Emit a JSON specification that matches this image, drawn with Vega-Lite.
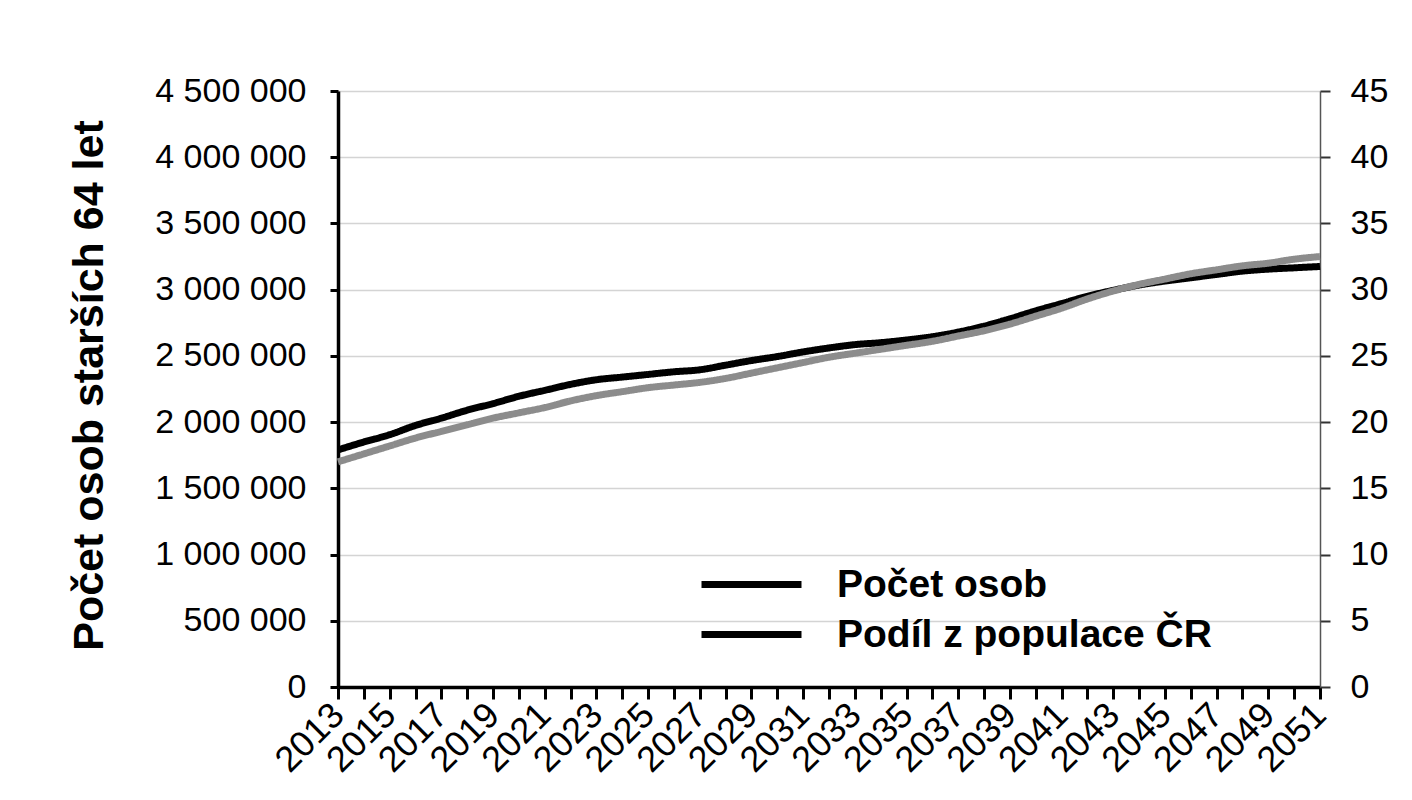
{
  "$schema": "https://vega.github.io/schema/vega-lite/v6.json",
  "autosize": {"type": "none"},
  "width": 982,
  "height": 596,
  "padding": {"left": 338, "top": 91, "right": 92, "bottom": 113},
  "background": "white",
  "config": {
    "view": {"stroke": null},
    "font": "Liberation Sans",
    "axis": {"labelFont": "Liberation Sans", "titleFont": "Liberation Sans", "labelColor": "black", "titleColor": "black"},
    "legend": {"symbolStrokeColor": "black"}
  },
  "data": {
    "values": [
      {"rok": 2013, "osob": 1790000, "podil": 17.0},
      {"rok": 2014, "osob": 1850000, "podil": 17.6},
      {"rok": 2015, "osob": 1905000, "podil": 18.2},
      {"rok": 2016, "osob": 1975000, "podil": 18.8},
      {"rok": 2017, "osob": 2030000, "podil": 19.3},
      {"rok": 2018, "osob": 2090000, "podil": 19.8},
      {"rok": 2019, "osob": 2140000, "podil": 20.3},
      {"rok": 2020, "osob": 2195000, "podil": 20.7},
      {"rok": 2021, "osob": 2240000, "podil": 21.1},
      {"rok": 2022, "osob": 2285000, "podil": 21.6},
      {"rok": 2023, "osob": 2320000, "podil": 22.0},
      {"rok": 2024, "osob": 2340000, "podil": 22.3},
      {"rok": 2025, "osob": 2360000, "podil": 22.6},
      {"rok": 2026, "osob": 2380000, "podil": 22.8},
      {"rok": 2027, "osob": 2395000, "podil": 23.0},
      {"rok": 2028, "osob": 2430000, "podil": 23.3},
      {"rok": 2029, "osob": 2465000, "podil": 23.7},
      {"rok": 2030, "osob": 2495000, "podil": 24.1},
      {"rok": 2031, "osob": 2530000, "podil": 24.5},
      {"rok": 2032, "osob": 2560000, "podil": 24.9},
      {"rok": 2033, "osob": 2585000, "podil": 25.2},
      {"rok": 2034, "osob": 2600000, "podil": 25.5},
      {"rok": 2035, "osob": 2620000, "podil": 25.8},
      {"rok": 2036, "osob": 2645000, "podil": 26.1},
      {"rok": 2037, "osob": 2680000, "podil": 26.5},
      {"rok": 2038, "osob": 2725000, "podil": 26.9},
      {"rok": 2039, "osob": 2780000, "podil": 27.4},
      {"rok": 2040, "osob": 2840000, "podil": 28.0},
      {"rok": 2041, "osob": 2895000, "podil": 28.6},
      {"rok": 2042, "osob": 2950000, "podil": 29.3},
      {"rok": 2043, "osob": 2995000, "podil": 29.9},
      {"rok": 2044, "osob": 3035000, "podil": 30.4},
      {"rok": 2045, "osob": 3065000, "podil": 30.8},
      {"rok": 2046, "osob": 3090000, "podil": 31.2},
      {"rok": 2047, "osob": 3115000, "podil": 31.5},
      {"rok": 2048, "osob": 3140000, "podil": 31.8},
      {"rok": 2049, "osob": 3155000, "podil": 32.0},
      {"rok": 2050, "osob": 3165000, "podil": 32.3},
      {"rok": 2051, "osob": 3175000, "podil": 32.5}
    ]
  },
  "encoding": {
    "x": {
      "field": "rok",
      "type": "quantitative",
      "scale": {"domain": [2013, 2051], "nice": false, "zero": false},
      "axis": {
        "title": null,
        "values": [2013, 2014, 2015, 2016, 2017, 2018, 2019, 2020, 2021, 2022, 2023, 2024, 2025, 2026, 2027, 2028, 2029, 2030, 2031, 2032, 2033, 2034, 2035, 2036, 2037, 2038, 2039, 2040, 2041, 2042, 2043, 2044, 2045, 2046, 2047, 2048, 2049, 2050, 2051],
        "labelExpr": "datum.value % 2 == 1 ? '' + datum.value : ''",
        "labelAngle": -45,
        "labelAlign": "right",
        "labelBaseline": "middle",
        "labelFontSize": 36,
        "labelPadding": 10,
        "labelOverlap": false,
        "labelFlush": false,
        "labelBound": false,
        "grid": false,
        "domainColor": "black",
        "domainWidth": 3.5,
        "tickColor": "black",
        "tickWidth": 3,
        "tickSize": 12
      }
    },
    "strokeDash": {
      "scale": {"domain": ["Počet osob", "Podíl z populace ČR"], "range": [[1, 0], [1, 0]]},
      "legend": {
        "title": null,
        "orient": "none",
        "legendX": 394,
        "legendY": 474,
        "padding": 0,
        "symbolType": "M-5,0H5",
        "symbolSize": 400,
        "symbolStrokeWidth": 7,
        "symbolStrokeColor": "black",
        "symbolDash": [1, 0],
        "labelFont": "Liberation Sans",
        "labelFontSize": 39,
        "labelFontWeight": "bold",
        "labelColor": "black",
        "labelOffset": 66,
        "labelLimit": 0,
        "rowPadding": 10
      }
    }
  },
  "layer": [
    {
      "mark": {"type": "line", "strokeWidth": 7, "interpolate": "monotone", "color": "#000000"},
      "encoding": {
        "y": {
          "field": "osob",
          "type": "quantitative",
          "scale": {"domain": [0, 4500000], "nice": false},
          "axis": {
            "orient": "left",
            "values": [0, 500000, 1000000, 1500000, 2000000, 2500000, 3000000, 3500000, 4000000, 4500000],
            "labelExpr": "replace(replace(format(datum.value, ','), ',', ' '), ',', ' ')",
            "labelFontSize": 34,
            "labelPadding": 24,
            "domainColor": "black",
            "domainWidth": 3.5,
            "tickColor": "black",
            "tickWidth": 3,
            "tickSize": 8,
            "grid": true,
            "gridColor": "#d4d4d4",
            "gridWidth": 1.5,
            "title": "Počet osob starších 64 let",
            "titleFontSize": 43,
            "titleFontWeight": "bold",
            "titleAngle": -90,
            "titleAlign": "center",
            "titleBaseline": "alphabetic",
            "titleX": -236,
            "titleY": 294
          }
        },
        "strokeDash": {"datum": "Počet osob"}
      }
    },
    {
      "mark": {"type": "line", "strokeWidth": 7, "interpolate": "monotone", "color": "#8c8c8c"},
      "encoding": {
        "y": {
          "field": "podil",
          "type": "quantitative",
          "scale": {"domain": [0, 45], "nice": false},
          "axis": {
            "orient": "right",
            "values": [0, 5, 10, 15, 20, 25, 30, 35, 40, 45],
            "labelFontSize": 34,
            "labelPadding": 20,
            "domainColor": "#555555",
            "domainWidth": 1.5,
            "tickColor": "#333333",
            "tickWidth": 2,
            "tickSize": 10,
            "grid": false,
            "title": null
          }
        },
        "strokeDash": {"datum": "Podíl z populace ČR"}
      }
    }
  ],
  "resolve": {"scale": {"y": "independent"}}
}
